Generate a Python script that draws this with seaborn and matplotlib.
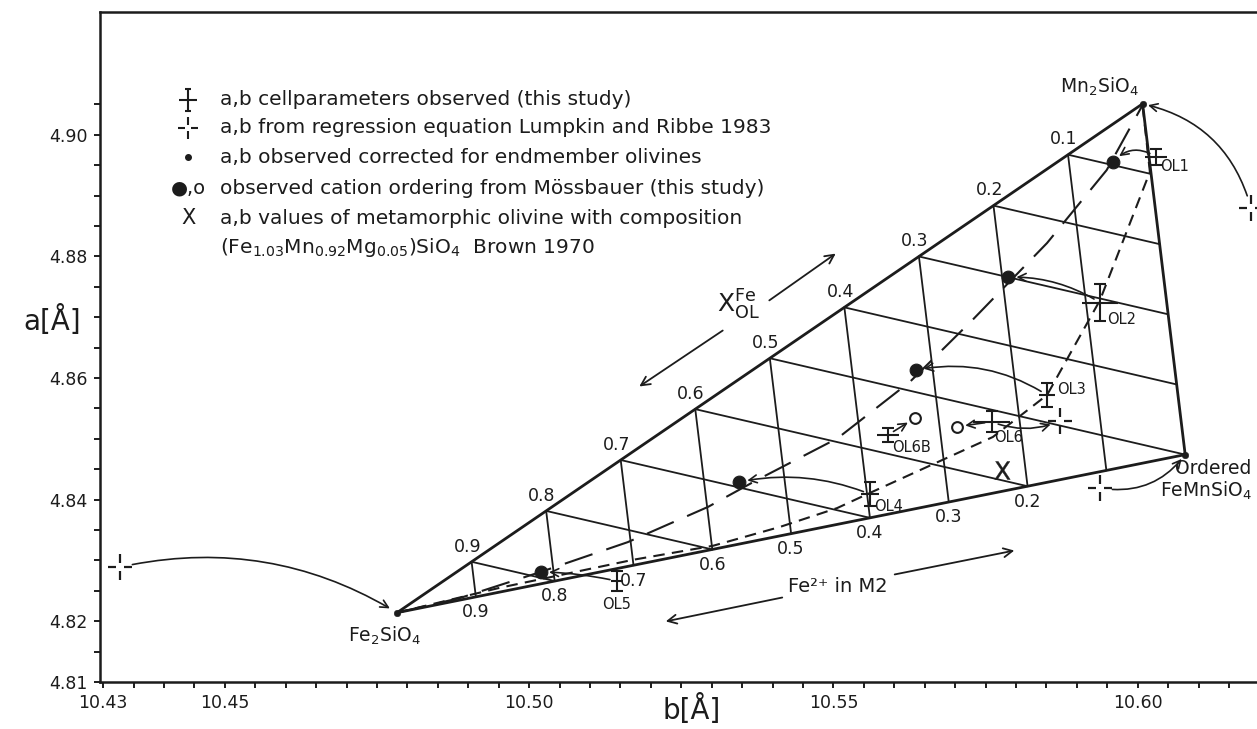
import numpy as np
import matplotlib
matplotlib.use("Agg")
import matplotlib.pyplot as plt
from matplotlib.path import Path
import seaborn as sns

# endmember olivines (a,b corrected): Fe2SiO4, Mn2SiO4, ordered FeMnSiO4
end_names = ["Fe2SiO4", "Mn2SiO4", "FeMnSiO4"]
end_b = [10.4783, 10.6008, 10.6078]
end_a = [4.8214, 4.9051, 4.8474]

# grid levels (X_OL^Fe along top edge, Fe in M1 along bottom edge)
x_levels = [0.1, 0.2, 0.3, 0.4, 0.5, 0.6, 0.7, 0.8, 0.9]
bottom_levels = [0.2, 0.3, 0.4, 0.5, 0.6, 0.7, 0.8, 0.9]

# long dashed curve through the Moessbauer ordering points
eq_b = [10.4783, 10.4886, 10.5019, 10.5162, 10.5294, 10.5374, 10.5507,
        10.5626, 10.5729, 10.5851, 10.5949, 10.6008]
eq_a = [4.8214, 4.8238, 4.8281, 4.8330, 4.8388, 4.8432, 4.8501,
        4.8594, 4.8696, 4.8822, 4.8942, 4.9049]

# short dashed curve through the observed cell parameters
obs_curve_b = [10.4783, 10.4952, 10.5171, 10.5302, 10.5412, 10.5506, 10.5560,
               10.5762, 10.5851, 10.5938, 10.6020, 10.6008]
obs_curve_a = [4.8214, 4.8255, 4.8301, 4.8324, 4.8355, 4.8386, 4.8411,
               4.8503, 4.8572, 4.8728, 4.8939, 4.9049]

# a,b cellparameters observed (this study)
ol_names = ["OL1", "OL2", "OL3", "OL4", "OL5", "OL6", "OL6B"]
ol_b = [10.6030, 10.5938, 10.5851, 10.5560, 10.5144, 10.5760, 10.5589]
ol_a = [4.8964, 4.8724, 4.8572, 4.8409, 4.8266, 4.8528, 4.8506]
ol_berr = [0.0018, 0.0030, 0.0013, 0.0015, 0.0010, 0.0030, 0.0018]
ol_aerr = [0.0013, 0.0030, 0.0020, 0.0020, 0.0017, 0.0017, 0.0012]

# cation ordering from Moessbauer: filled and open
moss_b = [10.5019, 10.5345, 10.5635, 10.5787, 10.5959]
moss_a = [4.8281, 4.8429, 4.8613, 4.8766, 4.8956]
open_b = [10.5634, 10.5703]
open_a = [4.8534, 4.8520]

# regression equation Lumpkin and Ribbe 1983
reg_b = [10.4328, 10.6186, 10.5872, 10.5938]
reg_a = [4.8289, 4.8880, 4.8529, 4.8419]

# Brown 1970 metamorphic olivine
brown_b = [10.5777]
brown_a = [4.8449]

x_ticks = np.round(np.arange(10.43, 10.6151, 0.005), 3)
x_tick_text = {10.43: "10.43", 10.45: "10.45", 10.5: "10.50", 10.55: "10.55", 10.6: "10.60"}
y_ticks = np.round(np.arange(4.81, 4.9051, 0.005), 3)
y_tick_text = {4.81: "4.81", 4.82: "4.82", 4.84: "4.84", 4.86: "4.86", 4.88: "4.88", 4.9: "4.90"}

sns.set_style("white")
plt.rcParams["font.family"] = ["DejaVu Sans"]
plt.rcParams["mathtext.fontset"] = "dejavusans"
ink = "#1c1c1c"

fig = plt.figure(figsize=(12.57, 7.29), dpi=100)
ax = fig.add_axes([0.0796, 0.0645, 0.9204, 0.919])

fe, mn, od = [np.array([b, a]) for b, a in zip(end_b, end_a)]


def mix(m1, m2):
    # Fe fraction on M1 and M2 -> (b, a)
    return mn + m1 * (fe - od) + m2 * (od - mn)


# triangle edges
ax.plot(end_b + end_b[:1], end_a + end_a[:1], color=ink, lw=2.0, zorder=3)

# grid lines
for x in x_levels:
    p0, p1 = mix(x, x), mix(x, 1.0)
    ax.plot([p0[0], p1[0]], [p0[1], p1[1]], color=ink, lw=1.3, zorder=2)
    p2 = mix(0.0, 2 * x) if x <= 0.5 else mix(2 * x - 1, 1.0)
    ax.plot([p0[0], p2[0]], [p0[1], p2[1]], color=ink, lw=1.3, zorder=2)
    ax.annotate(f"{x:.1f}", xy=mix(x, x), xytext=(-3, 11), textcoords="offset points",
                ha="center", va="center", fontsize=12.5, color=ink)
for x in bottom_levels:
    ax.annotate(f"{x:.1f}", xy=mix(x, 1.0), xytext=(0, -11), textcoords="offset points",
                ha="center", va="center", fontsize=12.5, color=ink)

# dashed curves
sns.lineplot(x=eq_b, y=eq_a, sort=False, estimator=None, color=ink, lw=1.5, ax=ax)
ax.lines[-1].set_dashes((14, 7))
sns.lineplot(x=obs_curve_b, y=obs_curve_a, sort=False, estimator=None, color=ink, lw=1.5, ax=ax)
ax.lines[-1].set_dashes((5.5, 3.5))

# markers
sns.scatterplot(x=end_b, y=end_a, s=22, color=ink, edgecolor=ink, ax=ax, zorder=5)
sns.scatterplot(x=moss_b, y=moss_a, s=85, color=ink, edgecolor=ink, ax=ax, zorder=5)
ax.scatter(open_b, open_a, s=60, facecolors="white", edgecolors=ink, linewidths=1.5, zorder=5)

ax.errorbar(ol_b, ol_a, xerr=ol_berr, fmt="none", ecolor=ink, elinewidth=1.5, capsize=0, zorder=4)
ax.errorbar(ol_b, ol_a, yerr=ol_aerr, fmt="none", ecolor=ink, elinewidth=1.5, capsize=4,
            capthick=1.5, zorder=4)

M, L = Path.MOVETO, Path.LINETO
reg_marker = Path([(-1, 0), (-0.3, 0), (0.3, 0), (1, 0), (0, -1.1), (0, -0.3), (0, 0.3), (0, 1.1)],
                  [M, L, M, L, M, L, M, L])
obs_marker = Path([(-1, 0), (1, 0), (0, -1.3), (0, 1.3), (-0.35, 1.3), (0.35, 1.3),
                   (-0.35, -1.3), (0.35, -1.3)], [M, L, M, L, M, L, M, L])
ax.plot(reg_b, reg_a, ls="none", marker=reg_marker, ms=19, mew=1.6, mfc="none", mec=ink, zorder=4)
ax.plot(brown_b, brown_a, ls="none", marker=r"$\mathrm{X}$", ms=13, mew=0.3, color=ink, zorder=4)

# OL labels
ol_label_offsets = {"OL1": (3, -7, "left"), "OL2": (5, -12, "left"), "OL3": (7, 4, "left"),
                    "OL4": (3, -9, "left"), "OL5": (0, -17, "center"), "OL6": (2, -11, "left"),
                    "OL6B": (3, -9, "left")}
for name, b, a in zip(ol_names, ol_b, ol_a):
    dx, dy, ha = ol_label_offsets[name]
    ax.annotate(name, xy=(b, a), xytext=(dx, dy), textcoords="offset points",
                ha=ha, va="center", fontsize=10.5, color=ink)


def arrow(p0, p1, rad, sa=5, sb=6):
    ax.annotate("", xy=p1, xytext=p0, arrowprops=dict(
        arrowstyle="->", color=ink, lw=1.2, mutation_scale=14,
        connectionstyle=f"arc3,rad={rad}", shrinkA=sa, shrinkB=sb), zorder=3)


reg = list(zip(reg_b, reg_a))
ols = list(zip(ol_b, ol_a))
moss = list(zip(moss_b, moss_a))
opn = list(zip(open_b, open_a))
ends = list(zip(end_b, end_a))
arrow(reg[0], ends[0], -0.2, 9, 6)
arrow(reg[1], ends[1], 0.3, 9, 4)
arrow(reg[3], ends[2], 0.3, 9, 4)
arrow(ols[0], moss[4], 0.4)
arrow(ols[1], moss[3], 0.15)
arrow(ols[2], moss[2], 0.2)
arrow(ols[3], moss[1], 0.15)
arrow(ols[4], moss[0], 0.05)
arrow(ols[5], opn[1], 0.0)
arrow(ols[5], reg[2], 0.2, 5, 7)
arrow(ols[6], opn[0], 0.0)

# vertex labels
ax.annotate("Mn$_2$SiO$_4$", xy=ends[1], xytext=(-31, 12), textcoords="offset points",
            ha="center", va="center", fontsize=13.5, color=ink)
ax.annotate("Fe$_2$SiO$_4$", xy=ends[0], xytext=(-9, -17), textcoords="offset points",
            ha="center", va="center", fontsize=13.5, color=ink)
ax.annotate("Ordered\nFeMnSiO$_4$", xy=ends[2], xytext=(48, -3), textcoords="offset points",
            ha="right", va="top", fontsize=13.5, color=ink, linespacing=1.1)

# axis direction annotations
ax.text(0.5514, 0.5627, r"X$^{\mathrm{Fe}}_{\mathrm{OL}}$", transform=ax.transAxes,
        ha="center", va="center", fontsize=18, color=ink)
for (x0, y0), (x1, y1) in [((0.5765, 0.5672), (0.6378, 0.6418)),
                           ((0.5402, 0.5269), (0.4641, 0.4388)),
                           ((0.5920, 0.1269), (0.4866, 0.0896)),
                           ((0.6845, 0.1597), (0.7926, 0.1970))]:
    ax.annotate("", xy=(x1, y1), xytext=(x0, y0), xycoords="axes fraction",
                arrowprops=dict(arrowstyle="->", color=ink, lw=1.3, mutation_scale=16))
ax.text(0.6379, 0.1418, "Fe²⁺ in M2", transform=ax.transAxes,
        ha="center", va="center", fontsize=14, color=ink)

# legend block
leg_y = [0.8687, 0.8269, 0.7836, 0.7373, 0.6925, 0.6478]
leg_text = ["a,b cellparameters observed (this study)",
            "a,b from regression equation Lumpkin and Ribbe 1983",
            "a,b observed corrected for endmember olivines",
            "observed cation ordering from Mössbauer (this study)",
            "a,b values of metamorphic olivine with composition",
            "(Fe$_{1.03}$Mn$_{0.92}$Mg$_{0.05}$)SiO$_4$  Brown 1970"]
for y, t in zip(leg_y, leg_text):
    ax.text(0.1037, y, t, transform=ax.transAxes, ha="left", va="center", fontsize=14.5,
            color=ink)
ax.plot([0.0761], [leg_y[0]], transform=ax.transAxes, ls="none", marker=obs_marker, ms=16,
        mew=1.5, mfc="none", mec=ink)
ax.plot([0.0761], [leg_y[1]], transform=ax.transAxes, ls="none", marker=reg_marker, ms=16,
        mew=1.5, mfc="none", mec=ink)
ax.plot([0.0761], [leg_y[2]], transform=ax.transAxes, ls="none", marker="o", ms=4, color=ink)
ax.text(0.0761, leg_y[3], "●,o", transform=ax.transAxes, ha="center", va="center",
        fontsize=14, color=ink)
ax.text(0.0761, leg_y[4], "X", transform=ax.transAxes, ha="center", va="center",
        fontsize=15, color=ink)

# axes
ax.set_xlim(10.4295, 10.6196)
ax.set_ylim(4.81, 4.9202)
ax.set_xticks(x_ticks)
ax.set_xticklabels([x_tick_text.get(round(t, 3), "") for t in x_ticks])
ax.set_yticks(y_ticks)
ax.set_yticklabels([y_tick_text.get(round(t, 3), "") for t in y_ticks])
ax.tick_params(bottom=True, left=True, direction="out", length=4, width=1.4, colors=ink,
               labelsize=12.5, pad=5)
ax.set_xlabel("")
ax.set_ylabel("")
for side in ["left", "bottom", "top"]:
    ax.spines[side].set_linewidth(1.8)
    ax.spines[side].set_color(ink)
ax.spines["right"].set_visible(False)
ax.text(-0.0415, 0.540, "a[Å]", transform=ax.transAxes, ha="center", va="center",
        fontsize=20, color=ink)
ax.text(0.5117, -0.0418, "b[Å]", transform=ax.transAxes, ha="center", va="center",
        fontsize=20, color=ink)

fig.savefig("out.png", dpi=100)
